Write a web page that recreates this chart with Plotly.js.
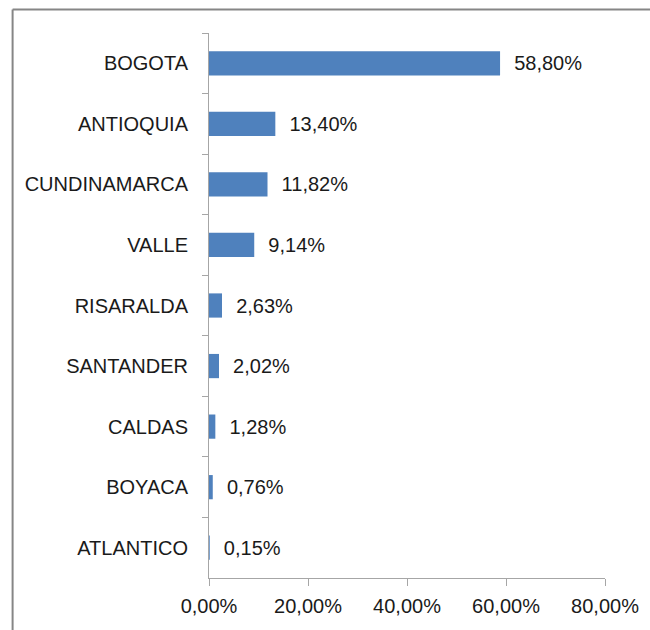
<!DOCTYPE html>
<html>
<head>
<meta charset="utf-8">
<script src="https://cdn.plot.ly/plotly-3.0.1.min.js"></script>
<style>
  html, body { margin: 0; padding: 0; background: #ffffff; }
  #chart { width: 650px; height: 630px; }
</style>
</head>
<body>
<div id="chart"></div>
<script>
const categories = ["BOGOTA", "ANTIOQUIA", "CUNDINAMARCA", "VALLE", "RISARALDA", "SANTANDER", "CALDAS", "BOYACA", "ATLANTICO"];
const values = [58.80, 13.40, 11.82, 9.14, 2.63, 2.02, 1.28, 0.76, 0.15];
const xTickValues = [0, 20, 40, 60, 80];

const fmtPct = v => v.toFixed(2).replace(".", ",") + "%";
const labelTexts = values.map(v => "\u00a0\u00a0" + fmtPct(v));
const xTickTexts = xTickValues.map(fmtPct);

const FONT = "Liberation Sans, Arial, sans-serif";

const trace = {
  type: "bar",
  orientation: "h",
  x: values,
  y: categories,
  marker: { color: "#4F81BD" },
  text: labelTexts,
  textposition: "outside",
  textfont: { family: FONT, size: 20, color: "#1a1a1a" },
  cliponaxis: false,
  hoverinfo: "none"
};

const layout = {
  width: 650,
  height: 630,
  margin: { l: 208.5, r: 45.3, t: 33, b: 52 },
  paper_bgcolor: "#ffffff",
  plot_bgcolor: "#ffffff",
  separators: ",.",
  showlegend: false,
  bargap: 0.6,
  font: { family: FONT, size: 20, color: "#1a1a1a" },
  xaxis: {
    range: [0, 80],
    tickmode: "array",
    tickvals: xTickValues,
    ticktext: xTickTexts,
    ticks: "outside",
    ticklen: 7,
    tickcolor: "#a6a6a6",
    showline: true,
    linecolor: "#a6a6a6",
    linewidth: 1,
    showgrid: false,
    zeroline: false,
    fixedrange: true,
    ticklabelstandoff: 3
  },
  yaxis: {
    type: "category",
    autorange: "reversed",
    ticks: "outside",
    tickson: "boundaries",
    ticklen: 6,
    tickcolor: "#a6a6a6",
    showline: true,
    linecolor: "#a6a6a6",
    linewidth: 1,
    showgrid: false,
    zeroline: false,
    fixedrange: true,
    ticklabelstandoff: 16
  },
  shapes: [
    {
      type: "line", xref: "paper", yref: "paper",
      x0: (12 - 208.5) / 396.2, x1: (12 - 208.5) / 396.2,
      y0: 1 + (33 - 9.5) / 545, y1: -0.2,
      line: { color: "#868686", width: 2 }
    },
    {
      type: "line", xref: "paper", yref: "paper",
      x0: (12 - 208.5) / 396.2, x1: 1.2,
      y0: 1 + (33 - 9.5) / 545, y1: 1 + (33 - 9.5) / 545,
      line: { color: "#868686", width: 2 }
    }
  ]
};

Plotly.newPlot("chart", [trace], layout, { displayModeBar: false, staticPlot: true });
</script>
</body>
</html>
